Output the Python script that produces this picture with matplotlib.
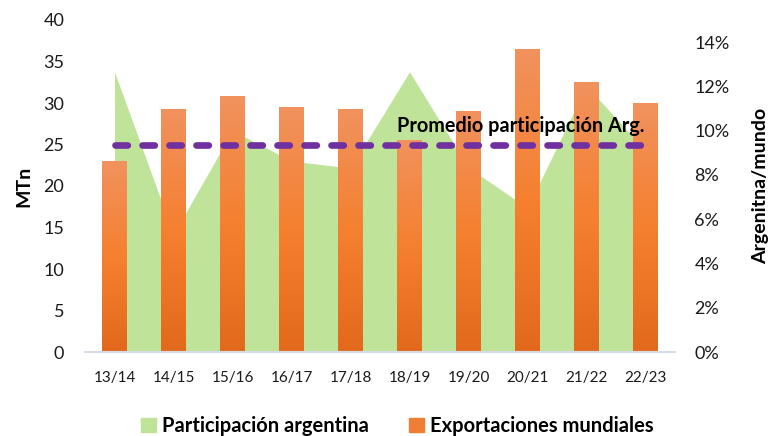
import matplotlib
matplotlib.use("Agg")
import matplotlib.pyplot as plt
import numpy as np
from matplotlib.colors import LinearSegmentedColormap
from matplotlib.patches import Patch
from matplotlib.ticker import PercentFormatter

plt.rcParams['font.family'] = ['Lato', 'DejaVu Sans']

# campañas
campanas = ['13/14', '14/15', '15/16', '16/17', '17/18',
            '18/19', '19/20', '20/21', '21/22', '22/23']

# exportaciones mundiales (MTn)
exportaciones = [22.9, 29.2, 30.8, 29.5, 29.2, 25.5, 29.0, 36.4, 32.5, 29.9]

# participacion argentina (fraccion del total mundial)
participacion = [0.1266, 0.0532, 0.1000, 0.0863, 0.0831,
                 0.1266, 0.0833, 0.0651, 0.1203, 0.0910]

promedio = np.mean(participacion)

verde = '#C0E39A'
violeta = '#7030A0'
naranja = LinearSegmentedColormap.from_list(
    'naranja', ['#E2691C', '#F5802F', '#F1925E'])

fig = plt.figure(figsize=(7.75, 4.36), dpi=100)
ax = fig.add_axes([85 / 775, 1 - 352 / 436, 590 / 775, 332 / 436])
ax2 = ax.twinx()
ax3 = ax.twinx()
ax2.set_zorder(0)
ax.set_zorder(1)
ax3.set_zorder(2)
ax.patch.set_visible(False)
ax3.patch.set_visible(False)

x = np.arange(len(campanas))

# area de participacion (eje derecho)
ax2.fill_between(x, participacion, color=verde, linewidth=0)
ax2.set_ylim(0, 0.15)
ax2.set_yticks(np.arange(0, 0.141, 0.02))
ax2.yaxis.set_major_formatter(PercentFormatter(1.0, decimals=0))

# barras con degradado
ancho = 0.41
barras = ax.bar(x, exportaciones, width=ancho, color='none', linewidth=0)
grad = np.linspace(0, 1, 256).reshape(-1, 1)
for b in barras:
    x0 = b.get_x()
    ax.imshow(grad, extent=[x0, x0 + b.get_width(), 0, b.get_height()],
              origin='lower', aspect='auto', cmap=naranja, zorder=2)
ax.set_xlim(-0.5, len(campanas) - 0.5)
ax.set_ylim(0, 40)
ax.set_yticks(range(0, 41, 5))
ax.set_xticks(x)
ax.set_xticklabels(campanas)

# promedio
ax3.plot(x, [promedio] * len(x), color=violeta, linewidth=4.8,
         linestyle=(0, (1.85, 2.2)), dash_capstyle='round')
ax3.set_ylim(ax2.get_ylim())
ax3.axis('off')
ax3.text(8.98, promedio + 0.004, 'Promedio participación Arg.',
         ha='right', va='bottom', fontsize=14.3, fontweight='bold')

for a in (ax, ax2):
    for s in a.spines.values():
        s.set_visible(False)
ax.spines['bottom'].set_visible(True)
ax.spines['bottom'].set_color('#D6DCE5')
ax.spines['bottom'].set_linewidth(1.5)

ax.tick_params(axis='y', length=0, pad=15, labelsize=13, labelcolor='#1a1a1a')
ax.tick_params(axis='x', length=0, pad=14, labelsize=11, labelcolor='#1a1a1a')
ax2.tick_params(axis='y', length=0, pad=14, labelsize=13, labelcolor='#1a1a1a')

ax.set_ylabel('MTn', fontsize=14, fontweight='bold', labelpad=8)
ax2.set_ylabel('Argenitna/mundo', fontsize=14, fontweight='bold', labelpad=16)

fig.legend(handles=[Patch(color=verde, label='Participación argentina'),
                    Patch(color='#F07F35', label='Exportaciones mundiales')],
           loc='center', bbox_to_anchor=(0.513, 1 - 426 / 436), ncol=2,
           frameon=False, prop={'size': 14.5, 'weight': 'bold'},
           handlelength=0.75, handleheight=0.75, handletextpad=0.3,
           columnspacing=2.0)

fig.savefig('out.png', dpi=100)
